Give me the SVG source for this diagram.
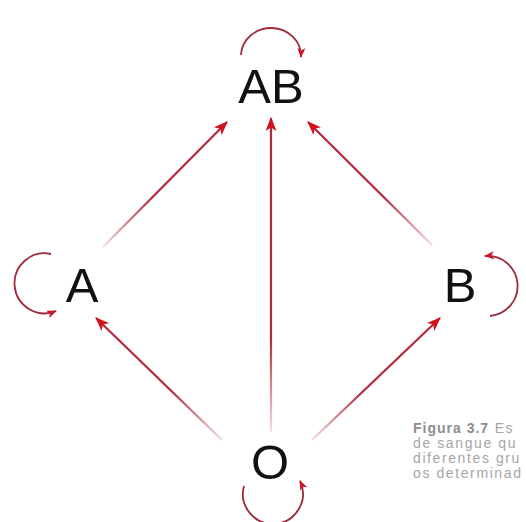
<svg xmlns="http://www.w3.org/2000/svg" width="526" height="522" viewBox="0 0 526 522">
<style>
.lbl{font-family:"Liberation Sans",Arial,sans-serif;font-size:49px;fill:#111;text-anchor:middle}
.edge{fill:none;stroke-width:2.2}
.loop{fill:none;stroke:#9e2a3c;stroke-width:1.8}
.cap{font-family:"Liberation Sans",Arial,sans-serif;font-size:14px;fill:#a6a6a6;letter-spacing:1.6px}
.capb{font-weight:bold;fill:#8e8e8e;letter-spacing:1px}
</style>
<defs>
<marker id="ah" viewBox="0 0 14 11" refX="13" refY="5.5" markerWidth="14" markerHeight="11" markerUnits="userSpaceOnUse" orient="auto"><path d="M0,0 L14,5.5 L0,11 L3.5,5.5 Z" fill="#d0121d"/></marker>
<marker id="ahs" viewBox="0 0 10 8" refX="9" refY="4" markerWidth="10" markerHeight="8" markerUnits="userSpaceOnUse" orient="auto"><path d="M0,0 L10,4 L0,8 L2.5,4 Z" fill="#c8162a"/></marker>
<linearGradient id="g1" gradientUnits="userSpaceOnUse" x1="103" y1="247" x2="227" y2="122"><stop offset="0" stop-color="#b3283a" stop-opacity="0.15"/><stop offset="0.4" stop-color="#b3283a"/></linearGradient>
<linearGradient id="g2" gradientUnits="userSpaceOnUse" x1="432" y1="245" x2="308" y2="122"><stop offset="0" stop-color="#b3283a" stop-opacity="0.15"/><stop offset="0.4" stop-color="#b3283a"/></linearGradient>
<linearGradient id="g3" gradientUnits="userSpaceOnUse" x1="271" y1="432" x2="271" y2="118"><stop offset="0" stop-color="#b3283a" stop-opacity="0.15"/><stop offset="0.3" stop-color="#b3283a"/></linearGradient>
<linearGradient id="g4" gradientUnits="userSpaceOnUse" x1="222" y1="440" x2="96" y2="318"><stop offset="0" stop-color="#b3283a" stop-opacity="0.15"/><stop offset="0.4" stop-color="#b3283a"/></linearGradient>
<linearGradient id="g5" gradientUnits="userSpaceOnUse" x1="312" y1="440" x2="440" y2="318"><stop offset="0" stop-color="#b3283a" stop-opacity="0.15"/><stop offset="0.4" stop-color="#b3283a"/></linearGradient>
</defs>
<rect width="526" height="522" fill="#fff"/>
<g id="connectors">
<line class="edge" x1="103" y1="247" x2="227" y2="122" stroke="url(#g1)" marker-end="url(#ah)"/>
<line class="edge" x1="432" y1="245" x2="308" y2="122" stroke="url(#g2)" marker-end="url(#ah)"/>
<line class="edge" x1="271" y1="432" x2="271" y2="118" stroke="url(#g3)" marker-end="url(#ah)"/>
<line class="edge" x1="222" y1="440" x2="96" y2="318" stroke="url(#g4)" marker-end="url(#ah)"/>
<line class="edge" x1="312" y1="440" x2="440" y2="318" stroke="url(#g5)" marker-end="url(#ah)"/>
<path class="loop" d="M 241 55 A 30 28 0 1 1 301 57" marker-end="url(#ahs)"/>
<path class="loop" d="M 51 254 A 30 30 0 1 0 56 311" marker-end="url(#ahs)"/>
<path class="loop" d="M 490 316 A 30 30 0 1 0 485 256" marker-end="url(#ahs)"/>
<path class="loop" d="M 244 486 A 30 30 0 1 0 300 481" marker-end="url(#ahs)"/>
</g>
<g id="node-AB"><text class="lbl" x="271" y="103">AB</text></g>
<g id="node-A"><text class="lbl" x="82" y="302">A</text></g>
<g id="node-B"><text class="lbl" x="460" y="302">B</text></g>
<g id="node-O"><text class="lbl" x="270" y="479">O</text></g>
<g id="caption">
<text class="cap" x="413" y="433"><tspan class="capb">Figura 3.7</tspan> Es</text>
<text class="cap" x="413" y="448">de sangue qu</text>
<text class="cap" x="413" y="463">diferentes gru</text>
<text class="cap" x="413" y="478">os determinad</text>
</g>
</svg>
